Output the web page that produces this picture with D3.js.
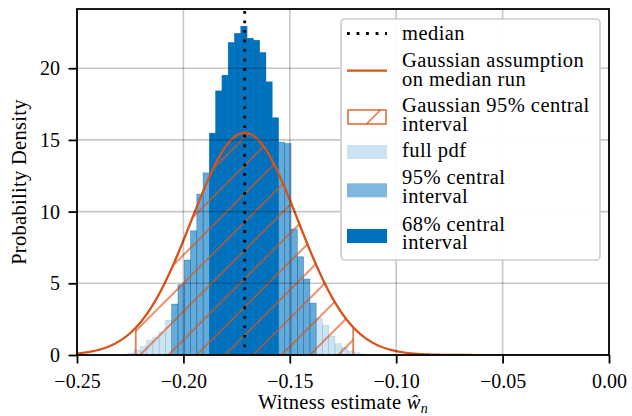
<!DOCTYPE html>
<html><head><meta charset="utf-8">
<script src="https://cdn.jsdelivr.net/npm/d3@7"></script>
<style>
body{margin:0;background:#fff}
svg{display:block}
</style>
</head><body>
<svg id="c" width="632" height="416"></svg>
<script>
// ---------------- data ----------------
const binStart = -0.2291;          // left edge of first histogram bin
const binWidth = 0.002951;         // histogram bin width
const density = [0.05, 0.14, 0.35, 0.60, 1.03, 1.25, 1.60, 2.44,
                 3.55, 4.90, 6.62, 8.66, 11.22, 12.70,
                 15.47, 18.42, 19.51, 21.79, 22.42, 22.93, 22.09, 21.95, 21.09, 19.05, 16.54,
                 14.84, 14.75, 8.78, 6.85, 5.30, 3.62,
                 2.56, 2.09, 1.32, 0.79, 0.54, 0.27, 0.16, 0.07];
const ci95Bins = [8, 30];          // first/last bin index of 95% central interval
const ci68Bins = [14, 24];         // first/last bin index of 68% central interval
const medianValue = -0.1712;
const gaussMean = -0.1712;
const gaussSigma = 0.0250;
const gaussPeak = 15.5;
const gaussCI95 = [-0.2224, -0.1202];
const xTicks = [-0.25, -0.20, -0.15, -0.10, -0.05, 0.00];
const yTicks = [0, 5, 10, 15, 20];
const xDomain = [-0.25, 0];
const yDomain = [0, 24.13];
const legendLabels = [["median"], ["Gaussian assumption", "on median run"],
  ["Gaussian 95% central", "interval"], ["full pdf"], ["95% central", "interval"], ["68% central", "interval"]];

// ---------------- drawing ----------------
const FONT = "'Liberation Serif', 'DejaVu Serif', serif";
const ORANGE = "#D95319", BLUE = "#0072BD";
const L = 77, R = 609, T = 9, B = 355;
const svg = d3.select("#c");
const x = d3.scaleLinear().domain(xDomain).range([L, R]);
const y = d3.scaleLinear().domain(yDomain).range([B, T]);
const defs = svg.append("defs");
defs.append("clipPath").attr("id", "clip").append("rect")
  .attr("x", L).attr("y", T).attr("width", R - L).attr("height", B - T);

const W = 28.3;
const pat = defs.append("pattern").attr("id", "hatch").attr("patternUnits", "userSpaceOnUse")
  .attr("x", 13.9).attr("y", 0).attr("width", W).attr("height", W);
pat.append("path")
  .attr("d", `M0,${W} L${W},0 M-3,3 L3,-3 M${W-3},${W+3} L${W+3},${W-3}`)
  .attr("stroke", ORANGE).attr("stroke-opacity", 0.75).attr("stroke-width", 1.7).attr("fill", "none");

const plot = svg.append("g").attr("clip-path", "url(#clip)");
const bins = density.map((v, i) => ({ i, v, x0: binStart + i * binWidth, x1: binStart + (i + 1) * binWidth }));

function drawBars(data, opacity) {
  plot.append("g").selectAll("rect").data(data).join("rect")
    .attr("x", d => x(d.x0)).attr("width", d => x(d.x1) - x(d.x0))
    .attr("y", d => y(d.v)).attr("height", d => y(0) - y(d.v))
    .attr("fill", BLUE).attr("fill-opacity", opacity)
    .attr("stroke", BLUE).attr("stroke-opacity", opacity).attr("stroke-width", opacity < 1 ? 0.6 : 0);
}
drawBars(bins, 0.2);
drawBars(bins.filter(d => d.i >= ci95Bins[0] && d.i <= ci95Bins[1]), 0.5);
drawBars(bins.filter(d => d.i >= ci68Bins[0] && d.i <= ci68Bins[1]), 1);

const gauss = v => gaussPeak * Math.exp(-((v - gaussMean) ** 2) / (2 * gaussSigma * gaussSigma));
const hatchPts = d3.range(gaussCI95[0], gaussCI95[1], 0.0005).concat([gaussCI95[1]]);
const area = d3.area().x(d => x(d)).y0(y(0)).y1(d => y(gauss(d)));
plot.append("path").datum(hatchPts).attr("d", area).attr("fill", "url(#hatch)");
plot.append("path").datum(hatchPts).attr("d", area).attr("fill", "none")
  .attr("stroke", ORANGE).attr("stroke-opacity", 0.75).attr("stroke-width", 1.8);

// grid
const grid = svg.append("g").attr("stroke", "#000").attr("stroke-opacity", 0.22).attr("stroke-width", 1.6);
grid.selectAll(".gx").data(xTicks).join("line")
  .attr("x1", d => x(d)).attr("x2", d => x(d)).attr("y1", T).attr("y2", B);
grid.selectAll(".gy").data(yTicks).join("line")
  .attr("y1", d => y(d)).attr("y2", d => y(d)).attr("x1", L).attr("x2", R);

// gaussian curve
const curvePts = d3.range(xDomain[0], xDomain[1] + 1e-9, 0.0005);
plot.append("path").datum(curvePts)
  .attr("d", d3.line().x(d => x(d)).y(d => y(gauss(d))))
  .attr("fill", "none").attr("stroke", ORANGE).attr("stroke-width", 2.2);

// median
svg.append("line").attr("x1", x(medianValue)).attr("x2", x(medianValue))
  .attr("y1", T).attr("y2", B).attr("stroke", "#000").attr("stroke-width", 2.8)
  .attr("stroke-dasharray", "2.8 6.73").attr("stroke-dashoffset", 7.6);

// axes
const fmt = v => (v < 0 ? "\u2212" : "") + Math.abs(v).toFixed(2);
const xAxis = svg.append("g").attr("transform", `translate(0,${B})`)
  .call(d3.axisBottom(x).tickValues(xTicks).tickFormat(fmt).tickSize(8.5).tickPadding(8));
const yAxis = svg.append("g").attr("transform", `translate(${L},0)`)
  .call(d3.axisLeft(y).tickValues(yTicks).tickFormat(d3.format("d")).tickSize(8.5).tickPadding(8.5));
[xAxis, yAxis].forEach(g => {
  g.attr("font-family", FONT).attr("font-size", 20);
  g.select(".domain").remove();
  g.selectAll(".tick line").attr("stroke", "#000").attr("stroke-width", 1.8);
  g.selectAll("text").attr("fill", "#000");
});
xAxis.selectAll("text").attr("dy", null).attr("y", 33);
svg.append("rect").attr("x", L).attr("y", T).attr("width", R - L).attr("height", B - T)
  .attr("fill", "none").attr("stroke", "#000").attr("stroke-width", 1.8);

// axis labels
svg.append("text").attr("transform", `translate(26,${(T + B) / 2}) rotate(-90)`)
  .attr("font-family", FONT)
  .attr("text-anchor", "middle").attr("font-size", 20.5).attr("letter-spacing", 0.3)
  .text("Probability Density");
const xl = svg.append("text").attr("x", (L + R) / 2).attr("y", 409).attr("font-family", FONT)
  .attr("text-anchor", "middle").attr("font-size", 20.5).attr("letter-spacing", 0.3);
xl.append("tspan").text("Witness estimate ");
xl.append("tspan").attr("font-style", "italic").text("\u0175");
xl.append("tspan").attr("font-style", "italic").attr("font-size", 14).attr("dy", 4).text("n");

// legend
const lg = svg.append("g").attr("font-family", FONT);
lg.append("rect").attr("x", 341).attr("y", 19).attr("width", 259).attr("height", 241).attr("rx", 4)
  .attr("fill", "#fff").attr("fill-opacity", 0.95).attr("stroke", "#cccccc").attr("stroke-width", 1.6);
const hx0 = 347, hx1 = 387, tx = 402;
const baselines = [[40], [66.7, 85.7], [111.7, 131], [156.7], [184.3, 203.3], [230.7, 249.3]];
legendLabels.forEach((lines, k) => {
  lines.forEach((s, j) => {
    lg.append("text").attr("x", tx).attr("y", baselines[k][j]).attr("font-size", 20.5)
      .attr("letter-spacing", 0.45).text(s);
  });
});
lg.append("line").attr("x1", hx0).attr("x2", hx1).attr("y1", 33.5).attr("y2", 33.5)
  .attr("stroke", "#000").attr("stroke-width", 2.8).attr("stroke-dasharray", "2.8 6.73").attr("stroke-dashoffset", 0);
lg.append("line").attr("x1", hx0).attr("x2", hx1).attr("y1", 70.7).attr("y2", 70.7)
  .attr("stroke", ORANGE).attr("stroke-width", 2.2);
lg.append("rect").attr("x", hx0 + 1).attr("y", 110).attr("width", 38).attr("height", 14)
  .attr("fill", "none").attr("stroke", ORANGE).attr("stroke-opacity", 0.75).attr("stroke-width", 1.8);
lg.append("line").attr("x1", 366.5).attr("y1", 124).attr("x2", 380.5).attr("y2", 110)
  .attr("stroke", ORANGE).attr("stroke-opacity", 0.75).attr("stroke-width", 1.7);
[[145, 0.2], [183.3, 0.5], [229, 1]].forEach(([yy, op]) => {
  lg.append("rect").attr("x", hx0).attr("y", yy).attr("width", hx1 - hx0).attr("height", 14)
    .attr("fill", BLUE).attr("fill-opacity", op);
});
</script>
</body></html>
